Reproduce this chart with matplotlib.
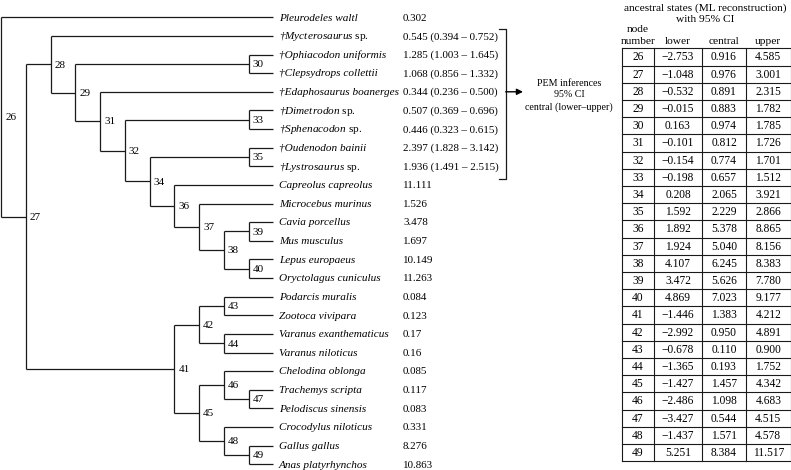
import matplotlib
matplotlib.use("Agg")
import matplotlib.pyplot as plt

plt.rcParams['font.family'] = ['Liberation Serif', 'DejaVu Serif']
plt.rcParams['mathtext.fontset'] = 'custom'
plt.rcParams['mathtext.rm'] = 'Liberation Serif'
plt.rcParams['mathtext.it'] = 'Liberation Serif:italic'

# ---------------- data ----------------
tip_names = [
    "Pleurodeles waltl", "†Mycterosaurus sp.", "†Ophiacodon uniformis",
    "†Clepsydrops collettii", "†Edaphosaurus boanerges", "†Dimetrodon sp.",
    "†Sphenacodon sp.", "†Oudenodon bainii", "†Lystrosaurus sp.",
    "Capreolus capreolus", "Microcebus murinus", "Cavia porcellus",
    "Mus musculus", "Lepus europaeus", "Oryctolagus cuniculus",
    "Podarcis muralis", "Zootoca vivipara", "Varanus exanthematicus",
    "Varanus niloticus", "Chelodina oblonga", "Trachemys scripta",
    "Pelodiscus sinensis", "Crocodylus niloticus", "Gallus gallus",
    "Anas platyrhynchos",
]
tip_values = [0.302, 0.545, 1.285, 1.068, 0.344, 0.507, 0.446, 2.397, 1.936,
              11.111, 1.526, 3.478, 1.697, 10.149, 11.263,
              0.084, 0.123, 0.17, 0.16, 0.085, 0.117, 0.083, 0.331, 8.276, 10.863]
# PEM 95% CI for fossils (None for extant species)
tip_lower = [None, 0.394, 1.003, 0.856, 0.236, 0.369, 0.323, 1.828, 1.491] + [None] * 16
tip_upper = [None, 0.752, 1.645, 1.332, 0.500, 0.696, 0.615, 3.142, 2.515] + [None] * 16

# internal nodes: children ("t<i>" = tip i) and cladogram depth
node_ids = list(range(26, 50))
node_children = {
    26: ["t0", 27], 27: [28, 41], 28: ["t1", 29], 29: [30, 31],
    30: ["t2", "t3"], 31: ["t4", 32], 32: [33, 34], 33: ["t5", "t6"],
    34: [35, 36], 35: ["t7", "t8"], 36: ["t9", 37], 37: ["t10", 38],
    38: [39, 40], 39: ["t11", "t12"], 40: ["t13", "t14"], 41: [42, 45],
    42: [43, 44], 43: ["t15", "t16"], 44: ["t17", "t18"], 45: [46, 48],
    46: ["t19", 47], 47: ["t20", "t21"], 48: ["t22", 49], 49: ["t23", "t24"],
}
node_depth = {26: 0, 27: 1, 28: 2, 29: 3, 30: 10, 31: 4, 32: 5, 33: 10, 34: 6,
              35: 10, 36: 7, 37: 8, 38: 9, 39: 10, 40: 10, 41: 7, 42: 8,
              43: 9, 44: 9, 45: 8, 46: 9, 47: 10, 48: 9, 49: 10}
tip_depth = 11

# ancestral states table
tab_nodes = node_ids
tab_lower = [-2.753, -1.048, -0.532, -0.015, 0.163, -0.101, -0.154, -0.198,
             0.208, 1.592, 1.892, 1.924, 4.107, 3.472, 4.869, -1.446, -2.992,
             -0.678, -1.365, -1.427, -2.486, -3.427, -1.437, 5.251]
tab_central = [0.916, 0.976, 0.891, 0.883, 0.974, 0.812, 0.774, 0.657, 2.065,
               2.229, 5.378, 5.040, 6.245, 5.626, 7.023, 1.383, 0.950, 0.110,
               0.193, 1.457, 1.098, 0.544, 1.571, 8.384]
tab_upper = [4.585, 3.001, 2.315, 1.782, 1.785, 1.726, 1.701, 1.512, 3.921,
             2.866, 8.865, 8.156, 8.383, 7.780, 9.177, 4.212, 4.891, 0.900,
             1.752, 4.342, 4.683, 4.515, 4.578, 11.517]
tab_header = ["lower", "central", "upper"]

# ---------------- layout ----------------
W, H = 791, 470
fig = plt.figure(figsize=(W / 100, H / 100), dpi=100)
ax = fig.add_axes([0, 0, 1, 1])
ax.set_xlim(0, W)
ax.set_ylim(H, 0)
ax.axis('off')

X0, DX = 1.0, 24.75
Y0, DY = 17.3, 18.625
LC = '#1a1a1a'
LW = 0.9

pos = {}


def place(n):
    if isinstance(n, str):
        i = int(n[1:])
        pos[n] = (X0 + tip_depth * DX, Y0 + i * DY)
        return pos[n]
    ys = [place(c)[1] for c in node_children[n]]
    pos[n] = (X0 + node_depth[n] * DX, sum(ys) / len(ys))
    return pos[n]


place(26)

for n in node_ids:
    x, y = pos[n]
    cys = [pos[c][1] for c in node_children[n]]
    ax.plot([x, x], [min(cys), max(cys)], color=LC, lw=LW, solid_capstyle='butt')
    for c in node_children[n]:
        cx, cy = pos[c]
        ax.plot([x, cx], [cy, cy], color=LC, lw=LW, solid_capstyle='butt')
    ax.text(x + 4.2, y + 0.8, str(n), fontsize=8.0, ha='left', va='center')


def fmt_name(s):
    return s.replace(" sp.", r" $\mathrm{sp.}$")


for i, name in enumerate(tip_names):
    x, y = pos["t%d" % i]
    ax.text(x + 5.4, y + 0.8, fmt_name(name), fontsize=8.1, style='italic',
            ha='left', va='center')
    if tip_lower[i] is None:
        vs = repr(tip_values[i])
    else:
        vs = "%.3f (%.3f – %.3f)" % (tip_values[i], tip_lower[i], tip_upper[i])
    ax.text(403, y + 0.8, vs, fontsize=7.9, ha='left', va='center')

# bracket and arrow for fossil PEM inferences
fossil_idx = [i for i in range(len(tip_names)) if tip_lower[i] is not None]
ytop = pos["t%d" % fossil_idx[0]][1] - 7
ybot = pos["t%d" % fossil_idx[-1]][1] + 13
bx = 505.7
ax.plot([499, bx, bx, 499], [ytop, ytop, ybot, ybot], color=LC, lw=LW)
ya = pos["t4"][1]
ax.annotate('', xy=(523, ya), xytext=(bx, ya),
            arrowprops=dict(arrowstyle='-|>', color='k', lw=1.0,
                            mutation_scale=9, shrinkA=0, shrinkB=0))
for txt, yy in zip(["PEM inferences", "95% CI", "central (lower–upper)"],
                   [83, 94.8, 107]):
    ax.text(569, yy, txt, fontsize=7.2, ha='center', va='center')

# table
cols = [622, 654, 702, 746, 790.5]
ttop, rh = 48.3, 17.2
nrows = len(tab_nodes)
tbot = ttop + nrows * rh
for k in range(nrows + 1):
    ax.plot([cols[0], cols[-1]], [ttop + k * rh] * 2, color=LC, lw=0.8)
for cx in cols:
    ax.plot([cx, cx], [ttop, tbot], color=LC, lw=0.8)


def fnum(v):
    s = "%.3f" % v
    return s.replace('-', '−')


for k in range(nrows):
    yy = ttop + (k + 0.5) * rh + 0.6
    vals = [str(tab_nodes[k]), fnum(tab_lower[k]), fnum(tab_central[k]), fnum(tab_upper[k])]
    for j, v in enumerate(vals):
        ax.text((cols[j] + cols[j + 1]) / 2, yy, v, fontsize=8.3, ha='center', va='center')

ax.text(705, 8.5, "ancestral states (ML reconstruction)", fontsize=8.2, ha='center', va='center')
ax.text(705, 20, "with 95% CI", fontsize=8.2, ha='center', va='center')
ax.text((cols[0] + cols[1]) / 2, 29.5, "node", fontsize=8.2, ha='center', va='center')
ax.text((cols[0] + cols[1]) / 2, 41.5, "number", fontsize=8.2, ha='center', va='center')
for j, h in enumerate(tab_header):
    ax.text((cols[j + 1] + cols[j + 2]) / 2, 41.5, h, fontsize=8.2, ha='center', va='center')

fig.savefig("out.png", dpi=100)
